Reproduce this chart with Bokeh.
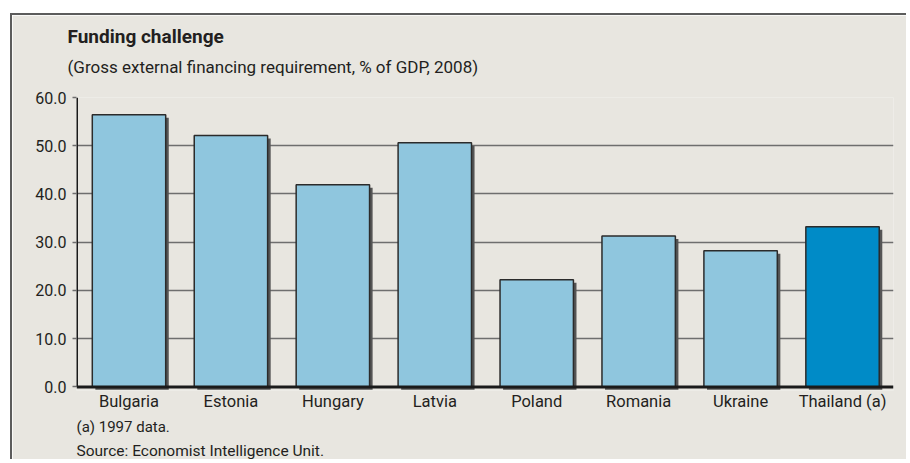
from bokeh.plotting import figure
from bokeh.models import Range1d, FixedTicker, NumeralTickFormatter, Span, Title, ColumnDataSource
from bokeh.embed import file_html
from bokeh.resources import INLINE

countries = ["Bulgaria", "Estonia", "Hungary", "Latvia", "Poland", "Romania", "Ukraine", "Thailand (a)"]
values = [56.4, 52.1, 41.9, 50.6, 22.2, 31.3, 28.2, 33.2]
colors = ["#8fc6de"] * 7 + ["#008bc7"]
y_ticks = [0, 10, 20, 30, 40, 50, 60]

title = "Funding challenge"
subtitle = "(Gross external financing requirement, % of GDP, 2008)"
note = "(a) 1997 data."
source_txt = "Source: Economist Intelligence Unit."

BG = "#e8e6e0"
FONT = "Roboto"
TXT = "#231f20"

W, H = 896, 446
p = figure(width=W, height=H, output_backend="svg", toolbar_location=None,
           x_range=Range1d(-0.015, 8), y_range=Range1d(-0.75, 60),
           min_border_left=64, min_border_right=15, min_border_top=82, min_border_bottom=71)
p.styles = {"margin-left": "10px", "margin-top": "13px",
            "border-left": "2px solid #5c5c5c", "border-top": "2px solid #5c5c5c"}
p.background_fill_color = BG
p.border_fill_color = BG
p.outline_line_color = None

xs = [i + 0.5 for i in range(len(countries))]
src = ColumnDataSource(dict(x=xs, top=values, color=colors,
                            sx=[x + 0.03 for x in xs], stop=[v - 0.62 for v in values]))

p.vbar(x="sx", top="stop", bottom=-0.62, width=0.72, source=src, fill_color="#555555", line_color=None)
p.vbar(x="x", top="top", bottom=0, width=0.72, source=src, fill_color="color",
       line_color="#2b2b2b", line_width=1.5)

p.add_layout(Span(location=0, dimension="width", line_color="#1a1a1a", line_width=3))
p.segment(x0=[-0.015], y0=[0], x1=[-0.015], y1=[60], line_color="#1a1a1a", line_width=3)

p.xgrid.visible = False
p.ygrid.ticker = FixedTicker(ticks=y_ticks[1:])
p.ygrid.grid_line_color = "#6e6e6e"
p.ygrid.grid_line_width = 1.5

p.yaxis.ticker = FixedTicker(ticks=y_ticks)
p.yaxis.formatter = NumeralTickFormatter(format="0.0")
p.yaxis.axis_line_color = None
p.yaxis.major_tick_line_color = "#6e6e6e"
p.yaxis.major_tick_line_width = 1.5
p.yaxis.major_tick_out = 4
p.yaxis.major_tick_in = 0
p.yaxis.minor_tick_line_color = None
p.yaxis.major_label_text_font = FONT
p.yaxis.major_label_text_font_size = "16px"
p.yaxis.major_label_text_color = TXT
p.yaxis.major_label_standoff = 6

p.xaxis.ticker = FixedTicker(ticks=xs)
p.xaxis.major_label_overrides = {x: c for x, c in zip(xs, countries)}
p.xaxis.axis_line_color = None
p.xaxis.major_tick_line_color = None
p.xaxis.major_tick_out = 0
p.xaxis.major_tick_in = 0
p.xaxis.minor_tick_line_color = None
p.xaxis.minor_tick_out = 0
p.xaxis.major_label_text_font = FONT
p.xaxis.major_label_text_font_size = "16.5px"
p.xaxis.major_label_text_color = TXT
p.xaxis.major_label_standoff = 1

def make_title(txt, size, where, standoff, bold=False):
    return Title(text=txt, align="left", offset=-9 if where == "above" else 0,
                 text_font=FONT, text_font_size=size, text_color=TXT,
                 text_font_style="bold" if bold else "normal", standoff=standoff)

try:
    t_sub = make_title(subtitle, "17px", "above", 41)
    t_main = make_title(title, "19px", "above", -26, True)
except Exception:
    t_sub = make_title(subtitle, "17px", "above", 30)
    t_main = make_title(title, "19px", "above", 0, True)

p.add_layout(t_sub, "above")
p.add_layout(t_main, "above")
p.add_layout(make_title(note, "15px", "below", 4), "below")
p.add_layout(make_title(source_txt, "15.5px", "below", 4), "below")

open("out.html", "w").write(file_html(p, INLINE))
